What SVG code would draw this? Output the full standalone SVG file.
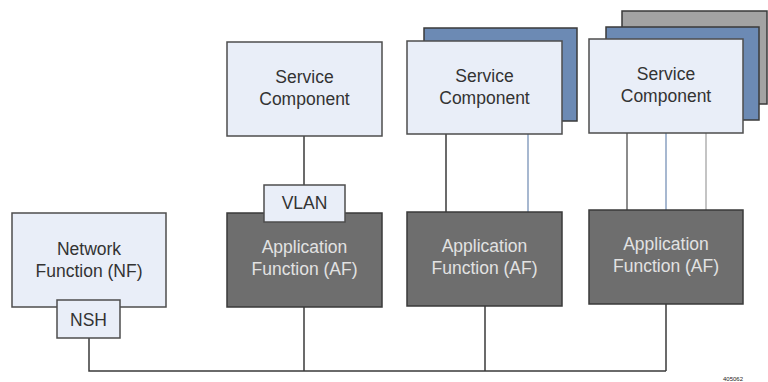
<svg xmlns="http://www.w3.org/2000/svg" width="768" height="382" viewBox="0 0 768 382">
<style>
.lt{fill:#e9eef8;stroke:#4d4d4d;stroke-width:1.5}
.af{fill:#6e6e6e;stroke:#3a3a3a;stroke-width:1.5}
.bl{fill:#6c8ab4;stroke:#3a3a3a;stroke-width:1.5}
.gr{fill:#a3a3a3;stroke:#3a3a3a;stroke-width:1.5}
.t{font-family:"Liberation Sans",Arial,sans-serif;font-size:17.5px;fill:#333;text-anchor:middle}
.tw{font-family:"Liberation Sans",Arial,sans-serif;font-size:17.5px;fill:#e2e2e2;text-anchor:middle}
.c{fill:none;stroke:#3a3a3a;stroke-width:1.5}
</style>
<rect width="768" height="382" fill="#fff"/>
<g id="connectors">
<polyline class="c" points="89,338 89,371 666,371"/>
<line class="c" x1="304" y1="307" x2="304" y2="371"/>
<line class="c" x1="485" y1="306" x2="485" y2="371"/>
<line class="c" x1="666" y1="304" x2="666" y2="371"/>
<line class="c" x1="304" y1="136" x2="304" y2="185"/>
<line class="c" x1="446" y1="134" x2="446" y2="212"/>
<line x1="528" y1="134" x2="528" y2="212" stroke="#8aa0c0" stroke-width="1.5"/>
<line x1="627" y1="133" x2="627" y2="210" stroke="#666" stroke-width="1.5"/>
<line x1="666" y1="133" x2="666" y2="210" stroke="#8aa0c0" stroke-width="1.5"/>
<line x1="706" y1="133" x2="706" y2="210" stroke="#b0b0b0" stroke-width="1.5"/>
</g>
<g id="nf">
<rect class="lt" x="12" y="213" width="154" height="94"/>
<text class="t" x="89" y="255">Network</text>
<text class="t" x="89" y="277">Function (NF)</text>
</g>
<g id="nsh">
<rect class="lt" x="57" y="300" width="63" height="38"/>
<text class="t" x="88.5" y="326">NSH</text>
</g>
<g id="sc1">
<rect class="lt" x="227" y="42" width="155" height="94"/>
<text class="t" x="304.5" y="83">Service</text>
<text class="t" x="304.5" y="105">Component</text>
</g>
<g id="af1">
<rect class="af" x="227" y="213" width="155" height="94"/>
<text class="tw" x="304.5" y="253">Application</text>
<text class="tw" x="304.5" y="275">Function (AF)</text>
</g>
<g id="vlan">
<rect class="lt" x="264" y="185" width="81" height="37"/>
<text class="t" x="304.5" y="209">VLAN</text>
</g>
<g id="sc2">
<rect class="bl" x="424" y="28" width="153" height="93"/>
<rect class="lt" x="407" y="41" width="155" height="93"/>
<text class="t" x="484.5" y="82">Service</text>
<text class="t" x="484.5" y="104">Component</text>
</g>
<g id="af2">
<rect class="af" x="407" y="212" width="155" height="94"/>
<text class="tw" x="484.5" y="252">Application</text>
<text class="tw" x="484.5" y="274">Function (AF)</text>
</g>
<g id="sc3">
<rect class="gr" x="622" y="11" width="145" height="93"/>
<rect class="bl" x="606" y="27" width="153" height="93"/>
<rect class="lt" x="589" y="39" width="154" height="94"/>
<text class="t" x="666" y="80">Service</text>
<text class="t" x="666" y="102">Component</text>
</g>
<g id="af3">
<rect class="af" x="589" y="210" width="154" height="94"/>
<text class="tw" x="666" y="250">Application</text>
<text class="tw" x="666" y="272">Function (AF)</text>
</g>
<text x="733" y="381" font-family="Liberation Sans,Arial,sans-serif" font-size="6" fill="#222" text-anchor="middle">405062</text>
</svg>
